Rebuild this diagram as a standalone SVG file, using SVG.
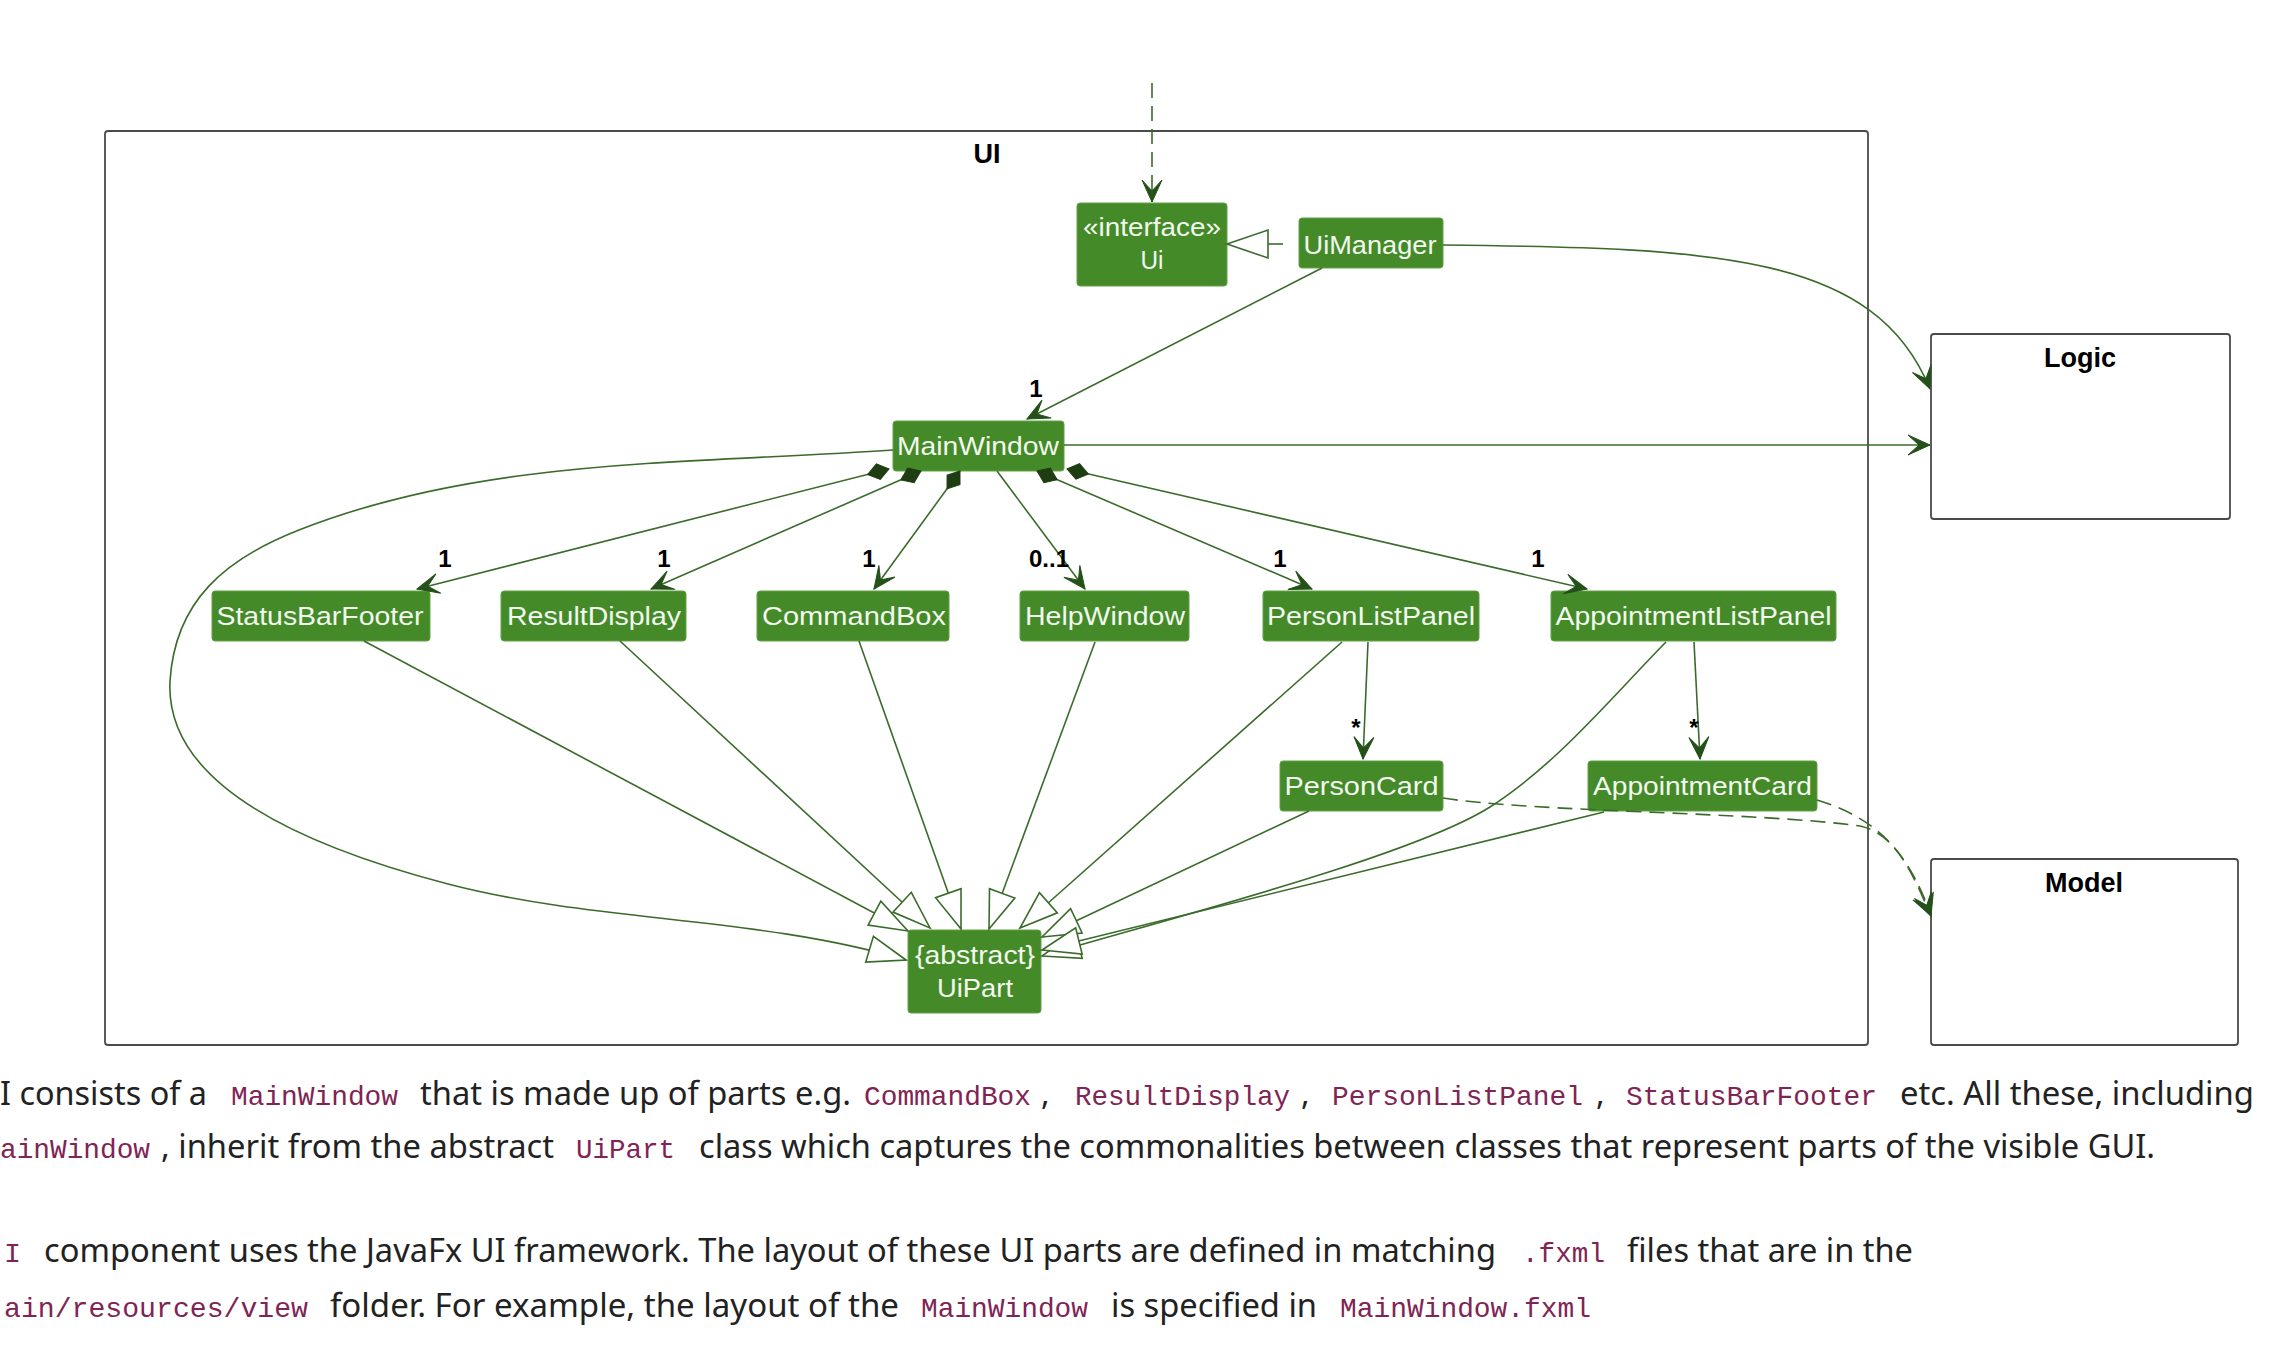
<svg xmlns="http://www.w3.org/2000/svg" width="2294" height="1346" viewBox="0 0 2294 1346">
<style>
.pkg{fill:none;stroke:#4a4a4a;stroke-width:1.8}
.ptitle{font-family:"Liberation Sans",Arial,sans-serif;font-weight:bold;font-size:27px;fill:#000;text-anchor:middle}
.node rect{fill:#448a28;stroke:#63a247;stroke-width:1}
.node text{font-family:"Liberation Sans",Arial,sans-serif;font-size:26px;fill:#f3f8ef;text-anchor:middle}
.e{fill:none;stroke:#3b6b2b;stroke-width:1.6}
.dash{stroke-dasharray:15,8}
.mult{font-family:"Liberation Sans",Arial,sans-serif;font-weight:bold;font-size:24px;fill:#000;text-anchor:middle}
.body{font-family:"Noto Sans","Open Sans",sans-serif;font-size:32px;fill:#222}
.code{font-family:"Liberation Mono","DejaVu Sans Mono",monospace;font-size:28px;fill:#7f2454}
</style>
<defs>
<marker id="arr" markerUnits="userSpaceOnUse" orient="auto" refX="0" refY="0" markerWidth="30" markerHeight="30" overflow="visible">
<path d="M0,0 L-22,-10 L-11,0 L-22,10 Z" fill="#24501a" stroke="#24501a" stroke-width="1"/>
</marker>
<marker id="dia" markerUnits="userSpaceOnUse" orient="auto" refX="0" refY="0" markerWidth="30" markerHeight="30" overflow="visible">
<path d="M0,0 L11,-8 L22,0 L11,8 Z" fill="#1f3d12" stroke="#1f3d12" stroke-width="1"/>
</marker>
<marker id="tri" markerUnits="userSpaceOnUse" orient="auto" refX="0" refY="0" markerWidth="50" markerHeight="50" overflow="visible">
<path d="M0,0 L-38,-13.5 L-38,13.5 Z" fill="#fff" stroke="#3b6b2b" stroke-width="1.6"/>
</marker>
</defs>
<rect width="2294" height="1346" fill="#fff"/>

<g id="pkg-ui">
<rect class="pkg" x="105" y="131" width="1763" height="914" rx="3"/>
<text class="ptitle" x="987" y="163">UI</text>
</g>
<g id="pkg-logic">
<rect class="pkg" x="1931" y="334" width="299" height="185" rx="3"/>
<text class="ptitle" x="2080" y="367">Logic</text>
</g>
<g id="pkg-model">
<rect class="pkg" x="1931" y="859" width="307" height="186" rx="3"/>
<text class="ptitle" x="2084" y="892">Model</text>
</g>

<g id="node-ui" class="node">
<rect x="1077" y="203" width="150" height="83" rx="3"/>
<text x="1152" y="236" textLength="138" lengthAdjust="spacingAndGlyphs">«interface»</text>
<text x="1152" y="269" textLength="23" lengthAdjust="spacingAndGlyphs">Ui</text>
</g>
<g id="node-uimanager" class="node">
<rect x="1299" y="218" width="144" height="50" rx="3"/>
<text x="1370" y="254" textLength="133" lengthAdjust="spacingAndGlyphs">UiManager</text>
</g>
<g id="node-mainwindow" class="node">
<rect x="893" y="421" width="171" height="50" rx="3"/>
<text x="978" y="455" textLength="162" lengthAdjust="spacingAndGlyphs">MainWindow</text>
</g>
<g id="node-statusbarfooter" class="node">
<rect x="212" y="591" width="218" height="50" rx="3"/>
<text x="320" y="625" textLength="207" lengthAdjust="spacingAndGlyphs">StatusBarFooter</text>
</g>
<g id="node-resultdisplay" class="node">
<rect x="501" y="591" width="185" height="50" rx="3"/>
<text x="594" y="625" textLength="174" lengthAdjust="spacingAndGlyphs">ResultDisplay</text>
</g>
<g id="node-commandbox" class="node">
<rect x="757" y="591" width="192" height="50" rx="3"/>
<text x="854" y="625" textLength="184" lengthAdjust="spacingAndGlyphs">CommandBox</text>
</g>
<g id="node-helpwindow" class="node">
<rect x="1020" y="591" width="169" height="50" rx="3"/>
<text x="1105" y="625" textLength="160" lengthAdjust="spacingAndGlyphs">HelpWindow</text>
</g>
<g id="node-personlistpanel" class="node">
<rect x="1263" y="591" width="216" height="50" rx="3"/>
<text x="1371" y="625" textLength="208" lengthAdjust="spacingAndGlyphs">PersonListPanel</text>
</g>
<g id="node-appointmentlistpanel" class="node">
<rect x="1551" y="591" width="285" height="50" rx="3"/>
<text x="1693.5" y="625" textLength="276" lengthAdjust="spacingAndGlyphs">AppointmentListPanel</text>
</g>
<g id="node-personcard" class="node">
<rect x="1280" y="761" width="163" height="50" rx="3"/>
<text x="1361.5" y="795" textLength="154" lengthAdjust="spacingAndGlyphs">PersonCard</text>
</g>
<g id="node-appointmentcard" class="node">
<rect x="1588" y="761" width="229" height="50" rx="3"/>
<text x="1702.5" y="795" textLength="219" lengthAdjust="spacingAndGlyphs">AppointmentCard</text>
</g>
<g id="node-uipart" class="node">
<rect x="908" y="930" width="133" height="83" rx="3"/>
<text x="975" y="964" textLength="120" lengthAdjust="spacingAndGlyphs">{abstract}</text>
<text x="975" y="997" textLength="76" lengthAdjust="spacingAndGlyphs">UiPart</text>
</g>

<g id="connectors">
<path class="e dash" d="M1152,83 L1152,202" marker-end="url(#arr)"/>
<path class="e" d="M1268,244 L1283,244"/>
<path d="M1227,244 L1268,230 L1268,258 Z" fill="#fff" stroke="#3b6b2b" stroke-width="1.6"/>
<path class="e" d="M1322,268 L1027,419" marker-end="url(#arr)"/>
<path class="e" d="M1443,245 C1720,248 1875,255 1930,389" marker-end="url(#arr)"/>
<path class="e" d="M1064,445 L1930,445" marker-end="url(#arr)"/>

<path class="e" d="M889,469 L417,589" marker-start="url(#dia)" marker-end="url(#arr)"/>
<path class="e" d="M921,471 L651,589" marker-start="url(#dia)" marker-end="url(#arr)"/>
<path class="e" d="M960,471 L874,589" marker-start="url(#dia)" marker-end="url(#arr)"/>
<path class="e" d="M997,471 L1085,589" marker-end="url(#arr)"/>
<path class="e" d="M1037,471 L1312,589" marker-start="url(#dia)" marker-end="url(#arr)"/>
<path class="e" d="M1067,469 L1587,589" marker-start="url(#dia)" marker-end="url(#arr)"/>
<path class="e" d="M1368,642 L1363,759" marker-end="url(#arr)"/>
<path class="e" d="M1694,642 L1700,759" marker-end="url(#arr)"/>

<path class="e dash" d="M1443,798 C1530,812 1760,812 1860,826 C1898,834 1915,880 1931,916" marker-end="url(#arr)"/>
<path class="e dash" d="M1817,800 C1865,815 1905,840 1931,916" marker-end="url(#arr)"/>

<path class="e" d="M893,450 C693,464 484,457 299,530 C225,559 175,601 170,681 C164,796 337,855 448,884 C598,923 758,916 906,960" marker-end="url(#tri)"/>
<path class="e" d="M364,641 L908,931" marker-end="url(#tri)"/>
<path class="e" d="M620,641 L930,928" marker-end="url(#tri)"/>
<path class="e" d="M859,641 L961,929" marker-end="url(#tri)"/>
<path class="e" d="M1095,642 L989,929" marker-end="url(#tri)"/>
<path class="e" d="M1342,642 L1020,928" marker-end="url(#tri)"/>
<path class="e" d="M1309,811 L1042,937" marker-end="url(#tri)"/>
<path class="e" d="M1666,642 C1610,699 1557,764 1490,807 C1414,855 1186,914 1042,956" marker-end="url(#tri)"/>
<path class="e" d="M1604,812 L1042,950" marker-end="url(#tri)"/>

<text class="mult" x="1036" y="397">1</text>
<text class="mult" x="445" y="567">1</text>
<text class="mult" x="664" y="567">1</text>
<text class="mult" x="869" y="567">1</text>
<text class="mult" x="1049" y="567">0..1</text>
<text class="mult" x="1280" y="567">1</text>
<text class="mult" x="1538" y="567">1</text>
<text class="mult" x="1356" y="736">*</text>
<text class="mult" x="1694" y="736">*</text>
</g>

<g id="caption">
<text class="body" x="0" y="1105" textLength="207" lengthAdjust="spacingAndGlyphs">I consists of a</text>
<text class="code" x="231" y="1105" textLength="167" lengthAdjust="spacingAndGlyphs">MainWindow</text>
<text class="body" x="420" y="1105" textLength="431" lengthAdjust="spacingAndGlyphs">that is made up of parts e.g.</text>
<text class="code" x="864" y="1105" textLength="167" lengthAdjust="spacingAndGlyphs">CommandBox</text>
<text class="body" x="1041" y="1105">,</text>
<text class="code" x="1075" y="1105" textLength="215" lengthAdjust="spacingAndGlyphs">ResultDisplay</text>
<text class="body" x="1301" y="1105">,</text>
<text class="code" x="1332" y="1105" textLength="251" lengthAdjust="spacingAndGlyphs">PersonListPanel</text>
<text class="body" x="1596" y="1105">,</text>
<text class="code" x="1626" y="1105" textLength="251" lengthAdjust="spacingAndGlyphs">StatusBarFooter</text>
<text class="body" x="1900" y="1105" textLength="354" lengthAdjust="spacingAndGlyphs">etc. All these, including</text>

<text class="code" x="0" y="1158" textLength="150" lengthAdjust="spacingAndGlyphs">ainWindow</text>
<text class="body" x="161" y="1158" textLength="393" lengthAdjust="spacingAndGlyphs">, inherit from the abstract</text>
<text class="code" x="576" y="1158" textLength="99" lengthAdjust="spacingAndGlyphs">UiPart</text>
<text class="body" x="699" y="1158" textLength="1456" lengthAdjust="spacingAndGlyphs">class which captures the commonalities between classes that represent parts of the visible GUI.</text>

<text class="code" x="4" y="1262" textLength="17" lengthAdjust="spacingAndGlyphs">I</text>
<text class="body" x="44" y="1262" textLength="1452" lengthAdjust="spacingAndGlyphs">component uses the JavaFx UI framework. The layout of these UI parts are defined in matching</text>
<text class="code" x="1522" y="1262" textLength="83" lengthAdjust="spacingAndGlyphs">.fxml</text>
<text class="body" x="1627" y="1262" textLength="286" lengthAdjust="spacingAndGlyphs">files that are in the</text>

<text class="code" x="4" y="1317" textLength="304" lengthAdjust="spacingAndGlyphs">ain/resources/view</text>
<text class="body" x="330" y="1317" textLength="569" lengthAdjust="spacingAndGlyphs">folder. For example, the layout of the</text>
<text class="code" x="921" y="1317" textLength="167" lengthAdjust="spacingAndGlyphs">MainWindow</text>
<text class="body" x="1111" y="1317" textLength="206" lengthAdjust="spacingAndGlyphs">is specified in</text>
<text class="code" x="1340" y="1317" textLength="251" lengthAdjust="spacingAndGlyphs">MainWindow.fxml</text>
</g>
</svg>
